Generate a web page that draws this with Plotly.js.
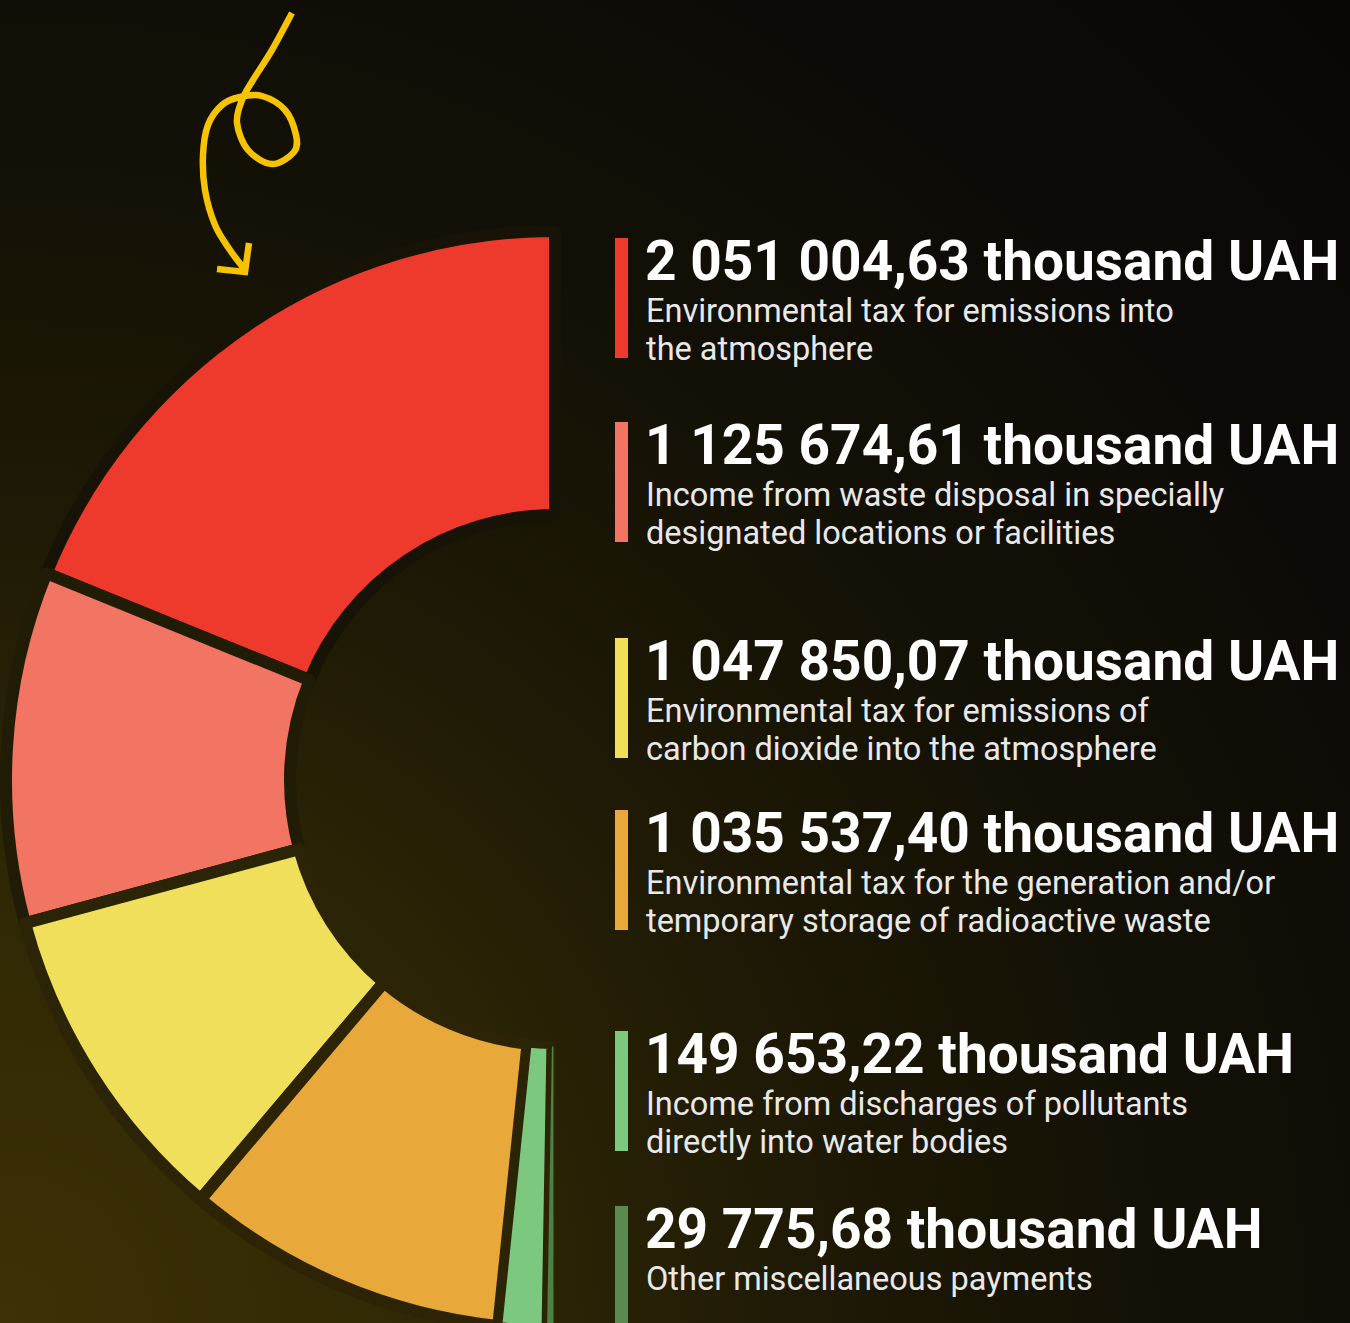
<!DOCTYPE html>
<html>
<head>
<meta charset="utf-8">
<script src="https://cdn.plot.ly/plotly-3.0.1.min.js"></script>
<style>
  html, body { margin: 0; padding: 0; overflow: hidden; background: #0a0807; }
  #wrap {
    width: 1350px; height: 1340px;
    background: radial-gradient(circle 1900px at 0px 1323px, #3d3106 0%, #2f2705 24%, #1f1a05 42%, #141106 60%, #0d0b07 80%, #080706 100%);
  }
  #chart { width: 1350px; height: 1340px; }
</style>
</head>
<body>
<div id="wrap"><div id="chart"></div></div>
<script>
// ---------- data ----------
const categories = [
  "Environmental tax for emissions into the atmosphere",
  "Income from waste disposal in specially designated locations or facilities",
  "Environmental tax for emissions of carbon dioxide into the atmosphere",
  "Environmental tax for the generation and/or temporary storage of radioactive waste",
  "Income from discharges of pollutants directly into water bodies",
  "Other miscellaneous payments"
];
const values = [2051004.63, 1125674.61, 1047850.07, 1035537.40, 149653.22, 29775.68];
const amountLabels = [
  "2 051 004,63 thousand UAH",
  "1 125 674,61 thousand UAH",
  "1 047 850,07 thousand UAH",
  "1 035 537,40 thousand UAH",
  "149 653,22 thousand UAH",
  "29 775,68 thousand UAH"
];
const descLines = [
  ["Environmental tax for emissions into", "the atmosphere"],
  ["Income from waste disposal in specially", "designated locations or facilities"],
  ["Environmental tax for emissions of", "carbon dioxide into the atmosphere"],
  ["Environmental tax for the generation and/or", "temporary storage of radioactive waste"],
  ["Income from discharges of pollutants", "directly into water bodies"],
  ["Other miscellaneous payments"]
];
const colors = ["#EE3A2C", "#F27462", "#F0DF5A", "#E8A83A", "#7CC87E", "#4E7F45"];
const barColors = ["#EE3A2C", "#F27462", "#F0DF5A", "#E8A83A", "#7CC87E", "#5A8A50"];

// ---------- layout constants ----------
const W = 1350, H = 1340;
const gapColors = ["#171407", "#211c05", "#2b2406", "#2c2405", "#2b2405", "#2b2405"];
const gapWidths = [12, 12, 12, 12, 8, 3];
const entryTop = [240, 424, 640, 812, 1033, 1208];
const cx = 555, cy = 780, R = 549;
const holeR = 265;

const px = x => x / W;
const py = y => (H - y) / H;

const total = values.reduce((a, b) => a + b, 0);
// half-donut: a transparent filler slice equal to the total occupies the right half
const firstAngle = 360 * values[0] / (2 * total);

const trace = {
  type: "pie",
  labels: categories.concat(["_filler"]),
  values: values.concat([total]),
  sort: false,
  direction: "counterclockwise",
  rotation: -firstAngle,
  hole: holeR / R,
  textinfo: "none",
  hoverinfo: "skip",
  showlegend: false,
  marker: {
    colors: colors.concat(["rgba(0,0,0,0)"]),
    line: {
      color: gapColors.concat(["rgba(0,0,0,0)"]),
      width: gapWidths.concat([0])
    }
  },
  domain: {
    x: [px(cx - R), px(cx + R)],
    y: [py(cy + R), py(cy - R)]
  }
};

// ---------- annotations & legend bars ----------
const annotations = [];
const shapes = [];
const headFs = 55, subFs = 32.5;
entryTop.forEach((t, i) => {
  const bottom = (i === entryTop.length - 1) ? H : t + 120;
  shapes.push({
    type: "rect", xref: "paper", yref: "paper",
    x0: px(615), x1: px(628), y0: py(t - 2), y1: py(bottom - 2),
    fillcolor: barColors[i], line: { width: 0 }, layer: "above"
  });
  const headBase = t + 41;
  annotations.push({
    xref: "paper", yref: "paper", showarrow: false,
    x: px(643), xanchor: "left",
    y: py(headBase + 1 + 0.244 * headFs), yanchor: "bottom",
    text: amountLabels[i],
    font: { family: "Roboto", size: headFs, color: "#ffffff", weight: 700 }
  });
  descLines[i].forEach((line, j) => {
    const base = t + 83 + j * 38;
    annotations.push({
      xref: "paper", yref: "paper", showarrow: false,
      x: px(644), xanchor: "left",
      y: py(base + 1 + 0.244 * subFs), yanchor: "bottom",
      text: line,
      font: { family: "Roboto", size: subFs, color: "#e9e9e9", weight: 400 }
    });
  });
});

// ---------- decorative arrow ----------
const arrowPts = [[292,13],[272,50],[253,80],[242,100],[237,123],[248,150],[272,164],[294,152],[296,135],[285,110],[262,96],[240,97],[222,105],[208,125],[203,155],[205,190],[215,225],[230,250],[245,270]];
function smoothPath(pts) {
  const P = pts.map(p => [px(p[0]), py(p[1])]);
  let d = "M" + P[0][0] + "," + P[0][1];
  for (let i = 0; i < P.length - 1; i++) {
    const p0 = P[Math.max(i - 1, 0)], p1 = P[i], p2 = P[i + 1], p3 = P[Math.min(i + 2, P.length - 1)];
    const c1 = [p1[0] + (p2[0] - p0[0]) / 6, p1[1] + (p2[1] - p0[1]) / 6];
    const c2 = [p2[0] - (p3[0] - p1[0]) / 6, p2[1] - (p3[1] - p1[1]) / 6];
    d += " C" + c1[0] + "," + c1[1] + " " + c2[0] + "," + c2[1] + " " + p2[0] + "," + p2[1];
  }
  return d;
}
shapes.push({ type: "path", xref: "paper", yref: "paper", path: smoothPath(arrowPts), line: { color: "#F6C300", width: 6.5 } });
const head = [[217,269],[245,272],[249,243]];
shapes.push({
  type: "path", xref: "paper", yref: "paper",
  path: "M" + px(head[0][0]) + "," + py(head[0][1]) + " L" + px(head[1][0]) + "," + py(head[1][1]) + " L" + px(head[2][0]) + "," + py(head[2][1]),
  line: { color: "#F6C300", width: 6.5 }
});

const layout = {
  width: W, height: H,
  margin: { l: 0, r: 0, t: 0, b: 0 },
  paper_bgcolor: "rgba(0,0,0,0)",
  plot_bgcolor: "rgba(0,0,0,0)",
  showlegend: false,
  font: { family: "Roboto" },
  annotations: annotations,
  shapes: shapes
};

Plotly.newPlot("chart", [trace], layout, { displayModeBar: false, staticPlot: true });
</script>
</body>
</html>
